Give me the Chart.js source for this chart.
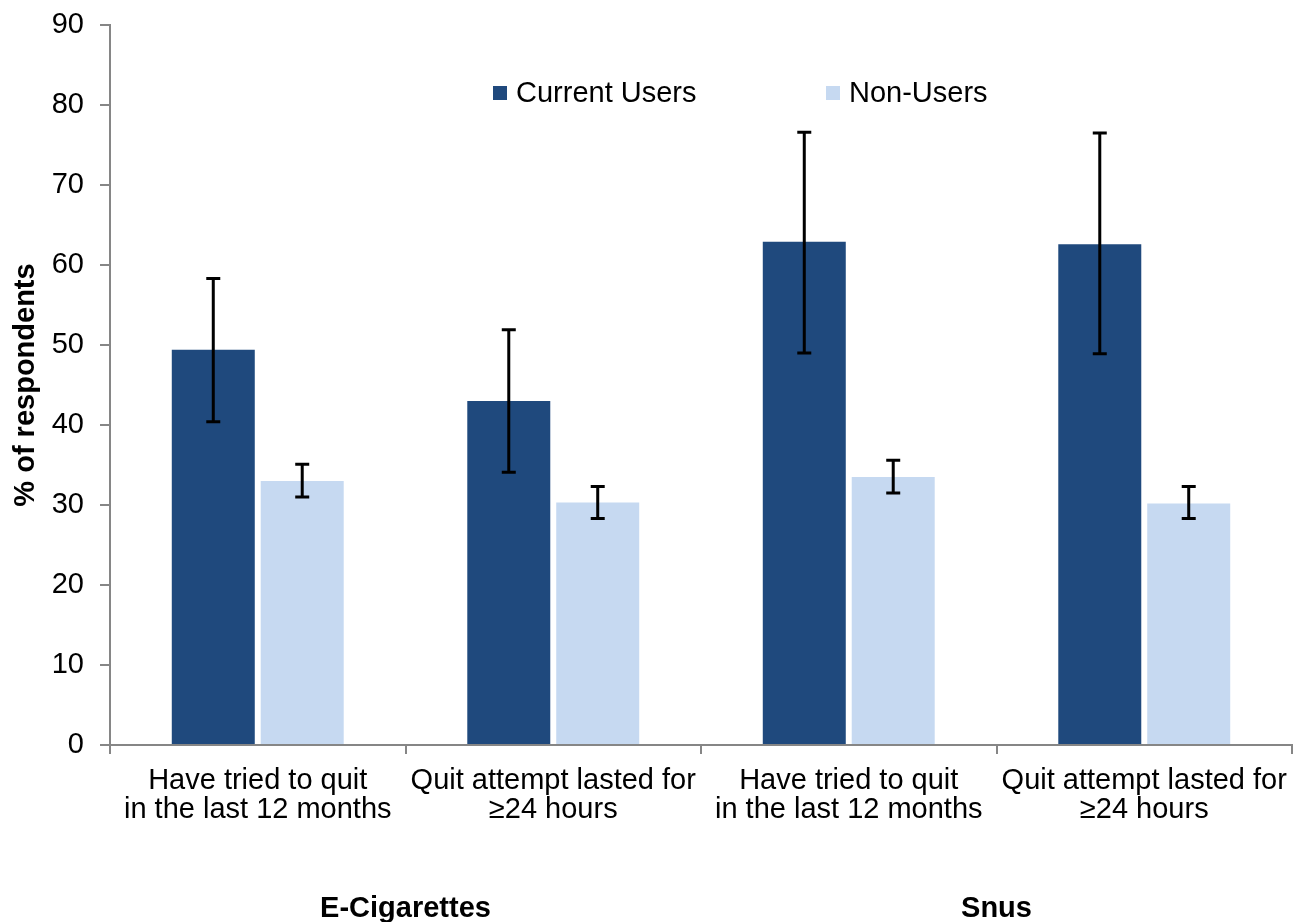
<!DOCTYPE html>
<html>
<head>
<meta charset="utf-8">
<script src="https://cdn.jsdelivr.net/npm/chart.js@4.4.1/dist/chart.umd.min.js"></script>
<style>
  html, body { margin: 0; padding: 0; background: #fff; }
  canvas { display: block; }
</style>
</head>
<body>
<canvas id="quitChart" width="1302" height="922"></canvas>
<script>
// Categories and values
const categories = [
    ["Have tried to quit", "in the last 12 months"],
    ["Quit attempt lasted for", "\u226524 hours"],
    ["Have tried to quit", "in the last 12 months"],
    ["Quit attempt lasted for", "\u226524 hours"]
];
const groupLabels = ["E-Cigarettes", "Snus"];
const currentUsers = [49.4, 43.0, 62.9, 62.6];
const currentLow = [40.4, 34.1, 49.0, 48.9];
const currentHigh = [58.3, 51.9, 76.6, 76.5];
const nonUsers = [33.0, 30.3, 33.5, 30.2];
const nonLow = [31.0, 28.3, 31.5, 28.3];
const nonHigh = [35.1, 32.3, 35.6, 32.3];
const yTicks = [0, 10, 20, 30, 40, 50, 60, 70, 80, 90];

const FONT = "'Liberation Sans', Arial, sans-serif";
const DARK = "#1F497D";
const LIGHT = "#C6D9F1";
const AXIS = "#868686";

// Draw the confidence interval whiskers on top of the bars
const errorBars = {
    id: "errorBars",
    afterDatasetsDraw(chart) {
        const ctx = chart.ctx;
        const y = chart.scales.y;
        const ranges = [[currentLow, currentHigh], [nonLow, nonHigh]];
        ctx.save();
        ctx.strokeStyle = "#000";
        ctx.lineWidth = 3;
        chart.data.datasets.forEach((ds, i) => {
            const meta = chart.getDatasetMeta(i);
            meta.data.forEach((bar, j) => {
                const lo = y.getPixelForValue(ranges[i][0][j]);
                const hi = y.getPixelForValue(ranges[i][1][j]);
                ctx.beginPath();
                ctx.moveTo(bar.x, lo);
                ctx.lineTo(bar.x, hi);
                ctx.moveTo(bar.x - 7, lo);
                ctx.lineTo(bar.x + 7, lo);
                ctx.moveTo(bar.x - 7, hi);
                ctx.lineTo(bar.x + 7, hi);
                ctx.stroke();
            });
        });
        ctx.restore();
    }
};

// Legend inside the plot area and the bold group labels below the axis
const extras = {
    id: "extras",
    afterDraw(chart) {
        const ctx = chart.ctx;
        const x = chart.scales.x;
        ctx.save();
        ctx.font = "29px " + FONT;
        ctx.textBaseline = "middle";
        ctx.textAlign = "left";
        const items = [["Current Users", DARK, 493], ["Non-Users", LIGHT, 826]];
        items.forEach(it => {
            ctx.fillStyle = it[1];
            ctx.fillRect(it[2], 86, 14, 14);
            ctx.fillStyle = "#000";
            ctx.fillText(it[0], it[2] + 23, 94);
        });

        ctx.font = "bold 29px " + FONT;
        ctx.textAlign = "center";
        groupLabels.forEach((g, i) => {
            const cx = (x.getPixelForValue(i * 2) + x.getPixelForValue(i * 2 + 1)) / 2;
            ctx.fillText(g, cx, 909);
        });
        ctx.restore();
    }
};

new Chart(document.getElementById("quitChart"), {
    type: "bar",
    data: {
        labels: categories,
        datasets: [
            { label: "Current Users", data: currentUsers, backgroundColor: DARK },
            { label: "Non-Users", data: nonUsers, backgroundColor: LIGHT }
        ]
    },
    options: {
        responsive: false,
        animation: false,
        devicePixelRatio: 1,
        layout: { padding: { top: 25, right: 10, left: 0, bottom: 0 } },
        datasets: { bar: { categoryPercentage: 0.602, barPercentage: 0.933 } },
        plugins: {
            legend: { display: false },
            tooltip: { enabled: false }
        },
        scales: {
            x: {
                afterFit(scale) { scale.height = 177; },
                border: { color: AXIS, width: 2 },
                grid: { drawOnChartArea: false, color: AXIS, lineWidth: 2, tickLength: 9 },
                ticks: { color: "#000", font: { family: FONT, size: 29, lineHeight: 0.98 }, padding: 13, maxRotation: 0 }
            },
            y: {
                min: 0,
                max: 90,
                afterFit(scale) {
                    scale.width = 110;
                    scale.paddingTop = 0;
                    scale.paddingBottom = 0;
                },
                afterBuildTicks(scale) { scale.ticks = yTicks.map(v => ({ value: v })); },
                border: { color: AXIS, width: 2 },
                grid: { drawOnChartArea: false, color: AXIS, lineWidth: 2, tickLength: 10 },
                ticks: { color: "#000", font: { family: FONT, size: 29 }, padding: 16 },
                title: {
                    display: true,
                    text: "% of respondents",
                    color: "#000",
                    font: { family: FONT, size: 29, weight: "bold" },
                    padding: { top: 9, bottom: 0 }
                }
            }
        }
    },
    plugins: [errorBars, extras]
});
</script>
</body>
</html>
